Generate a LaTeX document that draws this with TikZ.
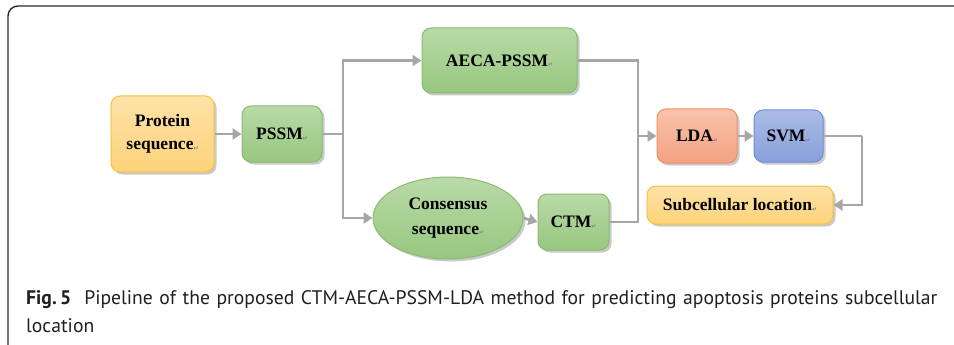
\documentclass[tikz,border=0pt]{standalone}
\usepackage{fontspec}
\setmainfont{Liberation Serif}
\newfontfamily\capfont{PT Sans}
\newfontfamily\symfont{DejaVu Sans}
\usetikzlibrary{shadows,arrows.meta,shapes.geometric}
\definecolor{ytop}{HTML}{FEE2A8}
\definecolor{ybot}{HTML}{FDD37A}
\definecolor{yline}{HTML}{F5C242}
\definecolor{gtop}{HTML}{B9DAA7}
\definecolor{gbot}{HTML}{97C77F}
\definecolor{gline}{HTML}{8ABB72}
\definecolor{otop}{HTML}{F8C3AB}
\definecolor{obot}{HTML}{F4A282}
\definecolor{oline}{HTML}{EE9066}
\definecolor{btop}{HTML}{AABCE6}
\definecolor{bbot}{HTML}{889FDB}
\definecolor{bline}{HTML}{6F8ED2}
\definecolor{arr}{HTML}{A6A6A6}
\definecolor{framecol}{HTML}{2A2A2A}
\definecolor{captext}{HTML}{231F20}
\newcommand{\parmk}{{\symfont\fontsize{6}{6}\selectfont\color{gray}\raisebox{-0.5pt}{↵}}}
\tikzset{
  base/.style={rounded corners=9pt, line width=1pt, align=center, inner sep=0pt,
    font=\fontsize{17.5}{23}\selectfont\bfseries,
    drop shadow={shadow xshift=2.5pt, shadow yshift=-2.5pt, opacity=0.35, fill=black!60}},
  ybox/.style={base, draw=yline, top color=ytop, bottom color=ybot},
  gbox/.style={base, draw=gline, top color=gtop, bottom color=gbot},
  obox/.style={base, draw=oline, top color=otop, bottom color=obot},
  bbox/.style={base, draw=bline, top color=btop, bottom color=bbot},
  gell/.style={ellipse, line width=1pt, draw=gline, top color=gtop, bottom color=gbot, align=center, inner sep=0pt,
    font=\fontsize{17.5}{25}\selectfont\bfseries,
    drop shadow={shadow xshift=2.5pt, shadow yshift=-2.5pt, opacity=0.35, fill=black!60}},
  conn/.style={draw=arr, line width=2.8pt, -{Triangle[length=9pt,width=11pt]}},
  line/.style={draw=arr, line width=2.8pt}
}
\begin{document}
\begin{tikzpicture}[x=1pt,y=-1pt]
\useasboundingbox (0,0) rectangle (954,345);
% frame
\draw[framecol, line width=1.4pt, rounded corners=10pt] (8,346) -- (8,6) -- (955,6);
% nodes
\node[ybox, minimum width=103pt, minimum height=76pt] (prot) at (162.5,134) {Protein\\sequence\parmk};
\node[gbox, minimum width=80pt, minimum height=56pt] (pssm) at (282,134) {PSSM\parmk};
\node[gbox, minimum width=155pt, minimum height=65pt] (aeca) at (499.5,60.5) {AECA-PSSM\parmk};
\node[gell, minimum width=150pt, minimum height=82pt] (cons) at (448,218) {Consensus\\sequence\parmk};
\node[gbox, minimum width=71pt, minimum height=56pt] (ctm) at (573.5,222) {CTM\parmk};
\node[obox, minimum width=80pt, minimum height=54pt] (lda) at (697,136) {LDA\parmk};
\node[bbox, minimum width=69pt, minimum height=52pt] (svm) at (788.5,136) {SVM\parmk};
\node[ybox, minimum width=186pt, minimum height=38pt] (sub) at (740,205) {Subcellular location\parmk};
% junction coordinates
\coordinate (j1) at (343,134);
\coordinate (j2) at (638,136);
\coordinate (j3) at (862,136);
% connectors
\draw[conn] (prot.east) -- (pssm.west);
\draw[line] (pssm.east) -- (j1);
\draw[conn] (j1) |- (aeca.west);
\draw[conn] (j1) |- (cons.west);
\draw[conn] (cons.east) -- (ctm.west);
\draw[line] (aeca.east) -| (j2);
\draw[line] (ctm.east) -| (j2);
\draw[conn] (j2) -- (lda.west);
\draw[conn] (lda.east) -- (svm.west);
\draw[line] (svm.east) -- (j3);
\draw[conn] (j3) |- (sub.east);
% caption
\node[anchor=north west, inner sep=0pt, align=left, text width=926pt, text=captext,
  font=\capfont\fontsize{19.65}{28}\selectfont] (cap) at (26,290)
  {\textbf{Fig.\,5}\ \ Pipeline of the proposed CTM-AECA-PSSM-LDA method for predicting apoptosis proteins subcellular\\location};
\end{tikzpicture}
\end{document}
